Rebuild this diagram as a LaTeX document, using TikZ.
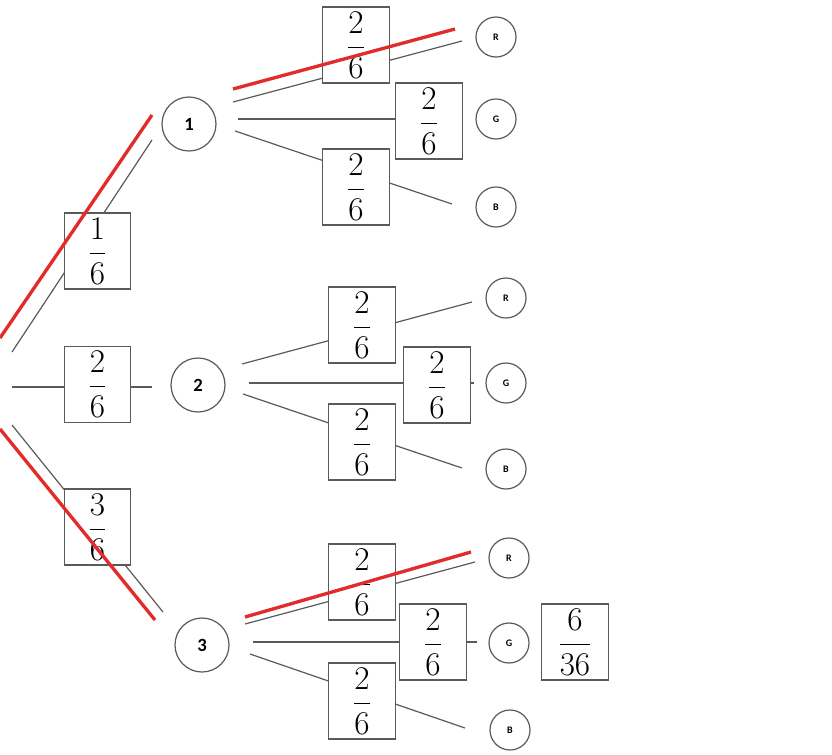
\documentclass[tikz,border=0pt]{standalone}
\usepackage{fontspec}
\newfontfamily\lblfont{Carlito}
\definecolor{redline}{RGB}{226,44,44}
\definecolor{grayline}{RGB}{90,90,90}
\begin{document}
\begin{tikzpicture}[x=0.75pt,y=-0.75pt,
 pbox/.style={draw=grayline,line width=0.9pt,fill=white,minimum width=50pt,minimum height=57pt,inner sep=0pt,font=\fontsize{24}{28}\selectfont},
 bigc/.style={circle,draw=grayline,line width=0.9pt,fill=white,minimum size=40.5pt,inner sep=0pt,font=\lblfont\bfseries\fontsize{14}{16}\selectfont},
 smallc/.style={circle,draw=grayline,line width=0.9pt,fill=white,minimum size=30pt,inner sep=0pt,font=\lblfont\bfseries\fontsize{7.5}{8}\selectfont},
 gl/.style={draw=grayline,line width=0.9pt},
 rl/.style={draw=redline,line width=2.5pt}
]
\fill[white] (0,0) rectangle (832,754);
\useasboundingbox (0,0) rectangle (832,754);

% free line ends
\coordinate (t0) at (12,352);   \coordinate (t1) at (152,140);
\coordinate (m0) at (12,387);   \coordinate (m1) at (152,387);
\coordinate (b0) at (12,425);   \coordinate (b1) at (163,612);
\coordinate (rt0) at (0,338);   \coordinate (rt1) at (152,115);
\coordinate (rb0) at (0,429);   \coordinate (rb1) at (155,620);

\coordinate (a1) at (233,102);  \coordinate (a2) at (462,41);
\coordinate (a3) at (238,119);  \coordinate (a4) at (396,119);
\coordinate (a5) at (235,131);  \coordinate (a6) at (452,204);
\coordinate (ra1) at (233,89);  \coordinate (ra2) at (455,29);

\coordinate (c1) at (242,364);  \coordinate (c2) at (472,302);
\coordinate (c3) at (249,383);  \coordinate (c4) at (474,383);
\coordinate (c5) at (243,394);  \coordinate (c6) at (462,468);

\coordinate (e1) at (245,624);  \coordinate (e2) at (475,562);
\coordinate (e3) at (253,642);  \coordinate (e4) at (477,642);
\coordinate (e5) at (250,654);  \coordinate (e6) at (465,728);
\coordinate (re1) at (245,617); \coordinate (re2) at (471,552);

% gray connectors
\draw[gl] (t0) -- (t1);
\draw[gl] (m0) -- (m1);
\draw[gl] (b0) -- (b1);
\draw[gl] (a1) -- (a2);
\draw[gl] (a3) -- (a4);
\draw[gl] (a5) -- (a6);
\draw[gl] (c1) -- (c2);
\draw[gl] (c3) -- (c4);
\draw[gl] (c5) -- (c6);
\draw[gl] (e1) -- (e2);
\draw[gl] (e3) -- (e4);
\draw[gl] (e5) -- (e6);

% first level
\node[pbox] (f1) at (97.5,251) {$\displaystyle\frac{1}{6}$};
\node[pbox] (f2) at (97.5,384.5) {$\displaystyle\frac{2}{6}$};
\node[pbox] (f3) at (97.5,527) {$\displaystyle\frac{3}{6}$};
\node[bigc] (n1) at (189,124) {1};
\node[bigc] (n2) at (198,385) {2};
\node[bigc] (n3) at (202,645) {3};

% group 1
\node[pbox] (pR1) at (356,45) {$\displaystyle\frac{2}{6}$};
\node[pbox] (pG1) at (429,121) {$\displaystyle\frac{2}{6}$};
\node[pbox] (pB1) at (356,187) {$\displaystyle\frac{2}{6}$};
\node[smallc] (cR1) at (496,37) {R};
\node[smallc] (cG1) at (496,119) {G};
\node[smallc] (cB1) at (496,207) {B};

% group 2
\node[pbox] (pR2) at (362,325) {$\displaystyle\frac{2}{6}$};
\node[pbox] (pG2) at (437,385) {$\displaystyle\frac{2}{6}$};
\node[pbox] (pB2) at (362,442) {$\displaystyle\frac{2}{6}$};
\node[smallc] (cR2) at (506,298) {R};
\node[smallc] (cG2) at (506,383) {G};
\node[smallc] (cB2) at (506,469) {B};

% group 3
\node[pbox] (pR3) at (362,582) {$\displaystyle\frac{2}{6}$};
\node[pbox] (pG3) at (433,642) {$\displaystyle\frac{2}{6}$};
\node[pbox] (pB3) at (362,701) {$\displaystyle\frac{2}{6}$};
\node[smallc] (cR3) at (509,558) {R};
\node[smallc] (cG3) at (509,643) {G};
\node[smallc] (cB3) at (510,730) {B};
\node[pbox] (res) at (575,642) {$\displaystyle\frac{6}{36}$};

% red highlighted path
\draw[rl] (rt0) -- (rt1);
\draw[rl] (rb0) -- (rb1);
\draw[rl] (ra1) -- (ra2);
\draw[rl] (re1) -- (re2);
\end{tikzpicture}
\end{document}
